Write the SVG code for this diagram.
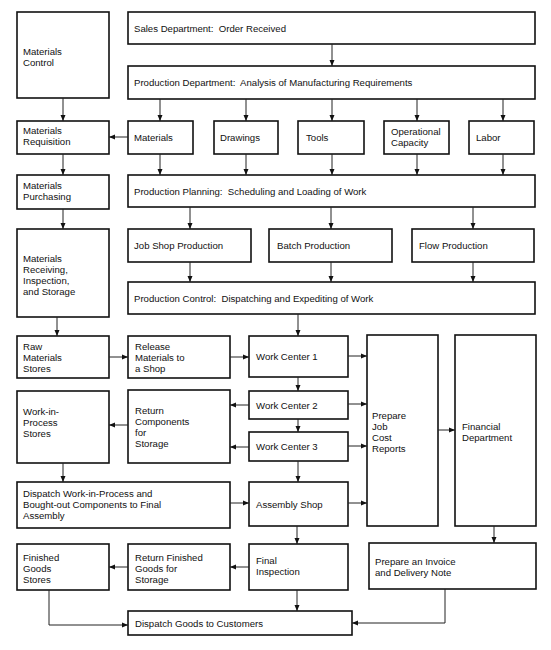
<svg xmlns="http://www.w3.org/2000/svg" width="551" height="650" viewBox="0 0 551 650">
<style>
.b{fill:#fff;stroke:#111;stroke-width:1.6}
text{font-family:"Liberation Sans",Arial,sans-serif;font-size:9.6px;fill:#111}
.c path{fill:none;stroke:#222;stroke-width:1;marker-end:url(#a)}
</style>
<defs><marker id="a" markerUnits="userSpaceOnUse" markerWidth="7" markerHeight="6" refX="6" refY="3" orient="auto"><path d="M0,0.5 L6,3 L0,5.5 z" fill="#111"/></marker></defs>
<rect width="551" height="650" fill="#fff"/>
<g id="mat-control"><rect class="b" x="17" y="12" width="92" height="86"/><text x="23" y="55">Materials</text><text x="23" y="66">Control</text></g>
<g id="sales"><rect class="b" x="128" y="12" width="407" height="32"/><text x="134" y="31.5" xml:space="preserve">Sales Department:  Order Received</text></g>
<g id="prod-dept"><rect class="b" x="128" y="66" width="407" height="33"/><text x="134" y="86" xml:space="preserve">Production Department:  Analysis of Manufacturing Requirements</text></g>
<g id="mat-req"><rect class="b" x="17" y="121" width="92" height="33"/><text x="23" y="134">Materials</text><text x="23" y="145">Requisition</text></g>
<g id="materials"><rect class="b" x="128" y="121" width="65" height="33"/><text x="134" y="141">Materials</text></g>
<g id="drawings"><rect class="b" x="214" y="121" width="64" height="33"/><text x="220" y="141">Drawings</text></g>
<g id="tools"><rect class="b" x="298" y="121" width="66" height="33"/><text x="306" y="141">Tools</text></g>
<g id="opcap"><rect class="b" x="384" y="121" width="65" height="33"/><text x="391" y="135">Operational</text><text x="391" y="146">Capacity</text></g>
<g id="labor"><rect class="b" x="469" y="121" width="65" height="33"/><text x="476" y="141">Labor</text></g>
<g id="mat-purch"><rect class="b" x="17" y="175" width="92" height="34"/><text x="23" y="189">Materials</text><text x="23" y="200">Purchasing</text></g>
<g id="planning"><rect class="b" x="128" y="175" width="407" height="32"/><text x="134" y="195" xml:space="preserve">Production Planning:  Scheduling and Loading of Work</text></g>
<g id="mat-recv"><rect class="b" x="17" y="229" width="92" height="88"/><text x="23" y="262">Materials</text><text x="23" y="273">Receiving,</text><text x="23" y="284">Inspection,</text><text x="23" y="295">and Storage</text></g>
<g id="jobshop"><rect class="b" x="128" y="229" width="123" height="33"/><text x="134" y="249">Job Shop Production</text></g>
<g id="batch"><rect class="b" x="269" y="229" width="123" height="33"/><text x="277" y="249">Batch Production</text></g>
<g id="flow"><rect class="b" x="412" y="229" width="122" height="33"/><text x="419" y="249">Flow Production</text></g>
<g id="control"><rect class="b" x="128" y="282" width="407" height="32"/><text x="134" y="302" xml:space="preserve">Production Control:  Dispatching and Expediting of Work</text></g>
<g id="raw"><rect class="b" x="17" y="336" width="92" height="42"/><text x="23" y="350">Raw</text><text x="23" y="361">Materials</text><text x="23" y="372">Stores</text></g>
<g id="release"><rect class="b" x="128" y="336" width="102" height="42"/><text x="135" y="350">Release</text><text x="135" y="361">Materials to</text><text x="135" y="372">a Shop</text></g>
<g id="wc1"><rect class="b" x="249" y="336" width="99" height="41"/><text x="256" y="360">Work  Center 1</text></g>
<g id="jobcost"><rect class="b" x="367" y="335" width="71" height="191"/><text x="372" y="419">Prepare</text><text x="372" y="430">Job</text><text x="372" y="441">Cost</text><text x="372" y="452">Reports</text></g>
<g id="financial"><rect class="b" x="455" y="335" width="81" height="191"/><text x="462" y="430">Financial</text><text x="462" y="441">Department</text></g>
<g id="wip"><rect class="b" x="17" y="391" width="92" height="72"/><text x="23" y="415">Work-in-</text><text x="23" y="426">Process</text><text x="23" y="437">Stores</text></g>
<g id="return-comp"><rect class="b" x="128" y="390" width="102" height="73"/><text x="135" y="414">Return</text><text x="135" y="425">Components</text><text x="135" y="436">for</text><text x="135" y="447">Storage</text></g>
<g id="wc2"><rect class="b" x="249" y="391" width="99" height="28"/><text x="256" y="409">Work  Center 2</text></g>
<g id="wc3"><rect class="b" x="249" y="432" width="99" height="29"/><text x="256" y="450">Work  Center 3</text></g>
<g id="dispatch-wip"><rect class="b" x="17" y="482" width="213" height="46"/><text x="23" y="497">Dispatch Work-in-Process and</text><text x="23" y="508">Bought-out Components to Final</text><text x="23" y="519">Assembly</text></g>
<g id="assembly"><rect class="b" x="249" y="482" width="99" height="44"/><text x="256" y="508">Assembly Shop</text></g>
<g id="finished"><rect class="b" x="17" y="544" width="92" height="46"/><text x="23" y="561">Finished</text><text x="23" y="572">Goods</text><text x="23" y="583">Stores</text></g>
<g id="return-fin"><rect class="b" x="128" y="544" width="102" height="46"/><text x="135" y="561">Return Finished</text><text x="135" y="572">Goods for</text><text x="135" y="583">Storage</text></g>
<g id="final"><rect class="b" x="249" y="544" width="99" height="46"/><text x="256" y="564">Final</text><text x="256" y="575">Inspection</text></g>
<g id="invoice"><rect class="b" x="369" y="543" width="167" height="46"/><text x="375" y="565">Prepare an Invoice</text><text x="375" y="576">and Delivery Note</text></g>
<g id="dispatch-goods"><rect class="b" x="128" y="611" width="224" height="24"/><text x="135" y="627">Dispatch Goods to Customers</text></g>
<g id="connectors" class="c">
<path d="M332,44V66"/>
<path d="M63,98V121"/>
<path d="M160,99V121"/>
<path d="M246,99V121"/>
<path d="M332,99V121"/>
<path d="M417,99V121"/>
<path d="M503,99V121"/>
<path d="M128,137H109"/>
<path d="M63,154V175"/>
<path d="M160,154V175"/>
<path d="M246,154V175"/>
<path d="M332,154V175"/>
<path d="M417,154V175"/>
<path d="M503,154V175"/>
<path d="M63,209V229"/>
<path d="M190,207V229"/>
<path d="M331,207V229"/>
<path d="M473,207V229"/>
<path d="M190,262V282"/>
<path d="M331,262V282"/>
<path d="M473,262V282"/>
<path d="M57,317V336"/>
<path d="M298,314V336"/>
<path d="M109,357H128"/>
<path d="M230,357H249"/>
<path d="M348,356H367"/>
<path d="M298,377V391"/>
<path d="M348,404H367"/>
<path d="M249,405H230"/>
<path d="M298,419V432"/>
<path d="M249,447H230"/>
<path d="M348,446H367"/>
<path d="M128,425H109"/>
<path d="M438,430H455"/>
<path d="M63,463V482"/>
<path d="M298,461V482"/>
<path d="M230,503H249"/>
<path d="M348,503H367"/>
<path d="M297,526V544"/>
<path d="M494,526V543"/>
<path d="M249,567H230"/>
<path d="M128,567H109"/>
<path d="M297,590V611"/>
<path d="M49,590V625H128"/>
<path d="M445,589V623H352"/>
</g>
</svg>
